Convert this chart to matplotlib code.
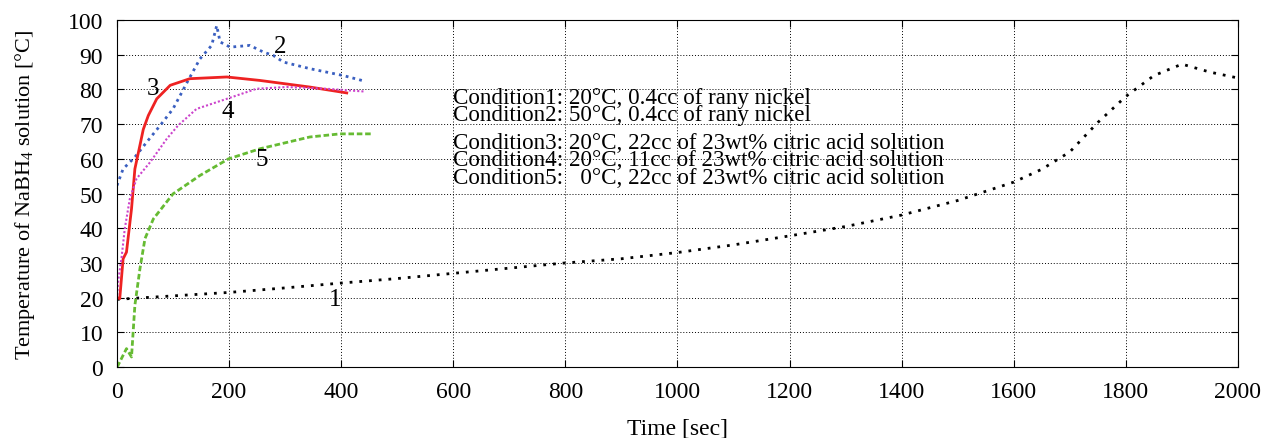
import numpy as np
import matplotlib
matplotlib.use("Agg")
import matplotlib.pyplot as plt

plt.rcParams['font.family'] = ['Liberation Serif', 'DejaVu Serif']
plt.rcParams['mathtext.fontset'] = 'custom'
plt.rcParams['mathtext.rm'] = 'Liberation Serif'
plt.rcParams['mathtext.it'] = 'Liberation Serif:italic'

# condition 1: 20C, 0.4cc rany nickel
t1 = [0, 100, 200, 300, 400, 500, 600, 700, 800, 900, 1000, 1100, 1200, 1300,
      1400, 1500, 1600, 1650, 1700, 1750, 1800, 1850, 1900, 1950, 2000]
T1 = [19.5, 20.5, 21.5, 22.8, 24.2, 25.5, 27, 28.5, 30, 31.2, 33, 35.2, 37.8, 40.5,
      43.8, 48, 53.3, 57, 62, 70.5, 78, 84, 87.3, 85, 83.3]

# condition 2: 50C, 0.4cc rany nickel
t2 = [0, 11, 32, 53, 77, 100, 127, 148, 169, 178, 184, 202, 237, 261, 279, 297, 344, 404, 437]
T2 = [52.3, 57.1, 60.5, 64.8, 69.6, 74.4, 82.6, 88.8, 92.7, 98.4, 93.7, 92.2, 92.7, 90.8, 89.8, 87.9, 86, 84, 82.6]

# condition 3: 20C, 22cc citric acid
t3 = [0, 5, 11, 17, 26, 32, 41, 47, 56, 71, 95, 130, 196, 255, 344, 410]
T3 = [20, 19.7, 31.2, 33.1, 45.6, 57.1, 63.9, 68.5, 72.5, 77.3, 81.2, 83.1, 83.6, 82.6, 80.7, 79]

# condition 4: 20C, 11cc citric acid
t4 = [0, 2, 8, 14, 23, 35, 59, 89, 109, 142, 196, 249, 303, 374, 442]
T4 = [19.5, 24.5, 31.2, 39.9, 48.5, 54.3, 59, 65.8, 69.6, 74.4, 77.3, 80.2, 80.7, 80.2, 79.4]

# condition 5: 0C, 22cc citric acid
t5 = [0, 2, 17, 26, 32, 41, 50, 65, 100, 148, 199, 255, 344, 398, 457]
T5 = [0, 0.5, 5.3, 2.9, 17.8, 28.3, 37, 42.7, 49.9, 55.2, 60, 62.9, 66.3, 67.2, 67.2]

conditions = ["Condition1: 20°C, 0.4cc of rany nickel",
              "Condition2: 50°C, 0.4cc of rany nickel",
              "Condition3: 20°C, 22cc of 23wt% citric acid solution",
              "Condition4: 20°C, 11cc of 23wt% citric acid solution",
              "Condition5:   0°C, 22cc of 23wt% citric acid solution"]
cond_y = [77.8, 72.9, 64.8, 59.7, 54.5]

fig = plt.figure(figsize=(12.67, 4.39), dpi=100)
ax = fig.add_axes([0.0923, 0.1617, 0.8848, 0.7903])

ax.plot(t1, T1, color='black', ls=(0, (1, 2.5)), lw=2)
ax.plot(t2, T2, color='#3a5fc0', ls=(0, (1, 1.5)), lw=2)
ax.plot(t3, T3, color='#ee2222', ls='-', lw=2)
ax.plot(t4, T4, color='#cc44cc', ls=(0, (1, 1)), lw=1.5)
ax.plot(t5, T5, color='#66bb33', ls=(0, (2, 1)), lw=2)

fs = 17
ax.text(389, 19.6, "1", fontsize=18, ha='center', va='center')
ax.text(291, 92.5, "2", fontsize=18, ha='center', va='center')
ax.text(64, 80.4, "3", fontsize=18, ha='center', va='center')
ax.text(198, 73.8, "4", fontsize=18, ha='center', va='center')
ax.text(259, 60, "5", fontsize=18, ha='center', va='center')

for s, y in zip(conditions, cond_y):
    ax.text(600, y, s, fontsize=16.6, ha='left', va='center', linespacing=1)

ax.set_xlim(0, 2000)
ax.set_ylim(0, 100)
ax.set_xticks(np.arange(0, 2001, 200))
ax.set_yticks(np.arange(0, 101, 10))
ax.grid(True, color='black', ls=(0, (1, 2)), lw=0.7)
ax.tick_params(direction='in', top=True, right=True, labelsize=fs, length=5)
ax.tick_params(axis='x', pad=10)
ax.tick_params(axis='y', pad=10)
ax.set_xlabel("Time [sec]", fontsize=fs, labelpad=11)
ax.set_ylabel("Temperature of NaBH$_4$ solution [°C]", fontsize=16, labelpad=22)

fig.savefig("out.png", dpi=100)
